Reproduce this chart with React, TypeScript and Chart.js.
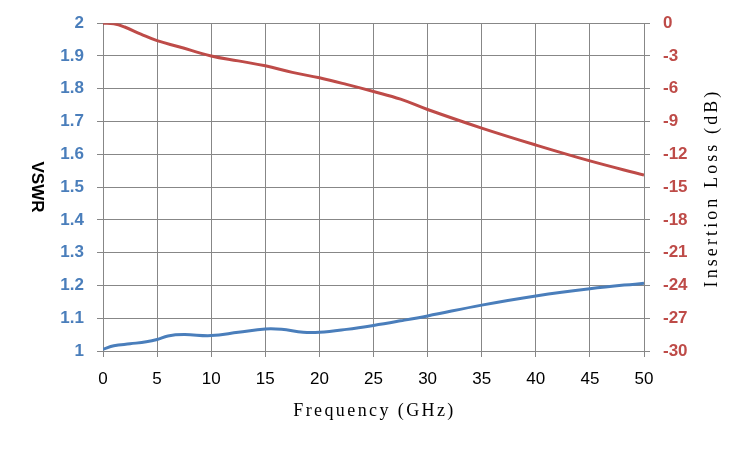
import React, { useEffect, useRef } from "react";
import { Chart, registerables } from "chart.js";

Chart.register(...registerables);

const vswrFreq = [0, 1, 2.5, 4, 5, 6, 7.5, 10, 12.5, 15, 16.5, 18.5, 20, 22.5, 25, 27.5, 30, 35, 40, 45, 50];
const vswrValues = [1.005, 1.016, 1.022, 1.028, 1.035, 1.046, 1.05, 1.047, 1.057, 1.067, 1.066, 1.057, 1.057, 1.066, 1.078, 1.092, 1.107, 1.14, 1.168, 1.19, 1.207];

const lossFreq = [0, 1, 2, 3.5, 5, 7, 10, 12.5, 15, 17.5, 20, 22.5, 25, 27.5, 30, 35, 40, 45, 50];
const lossValues = [0, -0.05, -0.35, -1.0, -1.6, -2.15, -3.0, -3.45, -3.9, -4.5, -5.0, -5.6, -6.25, -6.95, -7.9, -9.6, -11.15, -12.6, -13.9];

const xTitle = "Frequency (GHz)";
const leftTitle = "VSWR";
const rightTitle = "Insertion Loss (dB)";

const BLUE = "#4A7EBB";
const RED = "#BE4B48";
const GRID = "#878787";

const titlePlugin = {
  id: "customTitles",
  afterDraw(chart: any) {
    const ctx = chart.ctx;
    const area = chart.chartArea;
    ctx.save();
    ctx.fillStyle = "#000";
    ctx.textAlign = "center";
    ctx.textBaseline = "middle";
    // left title, rotated clockwise
    ctx.save();
    ctx.translate(37, 187);
    ctx.rotate(Math.PI / 2);
    ctx.font = "bold 17px 'Liberation Sans'";
    ctx.fillText(leftTitle, 0, 0);
    ctx.restore();
    // right title, rotated counter-clockwise
    ctx.save();
    ctx.translate(712, 188);
    ctx.rotate(-Math.PI / 2);
    ctx.font = "18px 'Liberation Serif'";
    (ctx as any).letterSpacing = "3.1px";
    ctx.fillText(rightTitle, 0, 0);
    ctx.restore();
    // x title
    ctx.save();
    ctx.font = "18px 'Liberation Serif'";
    (ctx as any).letterSpacing = "2.4px";
    ctx.fillText(xTitle, (area.left + area.right) / 2 + 1, 411);
    ctx.restore();
    ctx.restore();
  },
};

export default function App() {
  const ref = useRef<HTMLCanvasElement>(null);
  useEffect(() => {
    document.body.style.margin = "0";
    const chart = new Chart(ref.current!, {
      type: "line",
      data: {
        datasets: [
          {
            label: "VSWR",
            data: vswrFreq.map((f, i) => ({ x: f, y: vswrValues[i] })),
            borderColor: BLUE,
            borderWidth: 3,
            pointRadius: 0,
            tension: 0.4,
            yAxisID: "y",
          },
          {
            label: "Insertion Loss",
            data: lossFreq.map((f, i) => ({ x: f, y: lossValues[i] })),
            borderColor: RED,
            borderWidth: 3,
            pointRadius: 0,
            tension: 0.4,
            yAxisID: "y1",
          },
        ],
      },
      options: {
        animation: false,
        responsive: false,
        devicePixelRatio: 1,
        layout: { padding: { top: 23, left: 0, right: 0, bottom: 0 } },
        plugins: { legend: { display: false }, tooltip: { enabled: false } },
        scales: {
          x: {
            type: "linear",
            min: 0,
            max: 50,
            ticks: { stepSize: 5, color: "#000", font: { family: "'Liberation Sans'", size: 17 }, padding: 12, maxRotation: 0 },
            grid: { color: GRID, lineWidth: 1, tickLength: 6 },
            border: { color: GRID, width: 1 },
            afterFit: (s: any) => { s.height = 99; },
          },
          y: {
            position: "left",
            min: 1,
            max: 2,
            ticks: {
              stepSize: 0.1,
              color: BLUE,
              font: { family: "'Liberation Sans'", size: 17, weight: "bold" },
              padding: 13,
              callback: (v: any) => String(Number(Number(v).toFixed(1))),
            },
            grid: { color: GRID, lineWidth: 1, tickLength: 6 },
            border: { color: GRID, width: 1 },
            afterFit: (s: any) => { s.width = 103; },
          },
          y1: {
            position: "right",
            min: -30,
            max: 0,
            ticks: { stepSize: 3, color: RED, font: { family: "'Liberation Sans'", size: 17, weight: "bold" }, padding: 13 },
            grid: { drawOnChartArea: false, color: GRID, lineWidth: 1, tickLength: 6 },
            border: { color: GRID, width: 1 },
            afterFit: (s: any) => { s.width = 106; },
          },
        },
      },
      plugins: [titlePlugin],
    } as any);
    return () => chart.destroy();
  }, []);
  return <canvas ref={ref} width={750} height={450} style={{ display: "block", width: 750, height: 450 }} />;
}
